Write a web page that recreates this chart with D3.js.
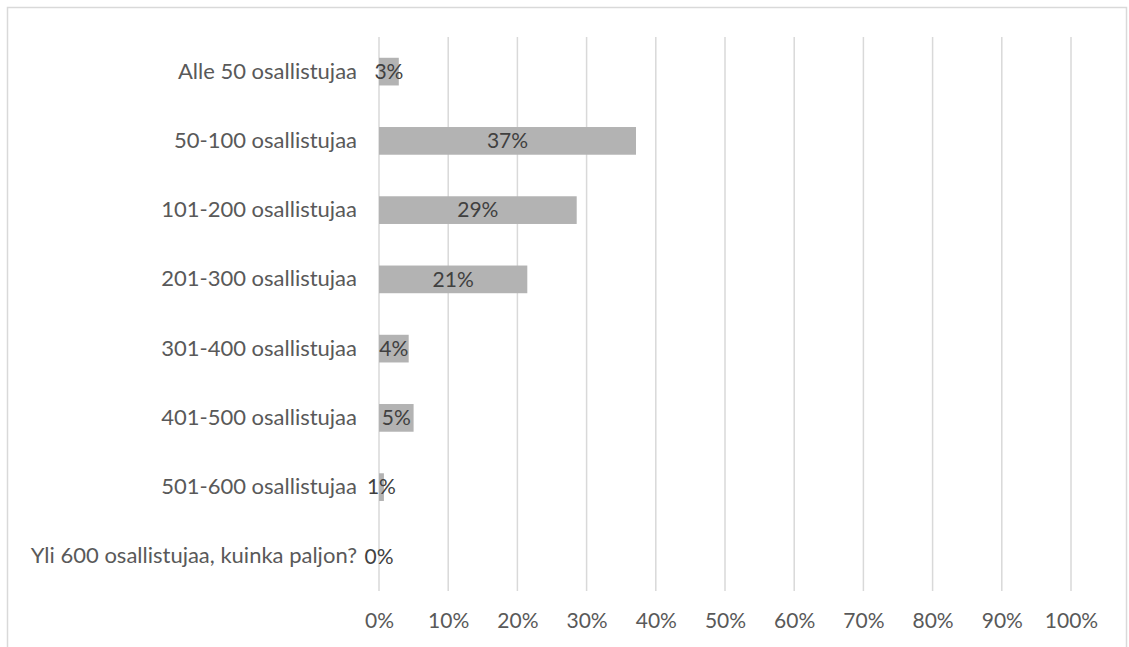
<!DOCTYPE html>
<html>
<head>
<meta charset="utf-8">
<script src="https://cdn.jsdelivr.net/npm/d3@7"></script>
<style>
  html, body { margin: 0; padding: 0; background: #fff; }
  svg { display: block; }
</style>
</head>
<body>
<svg id="chart" width="1129" height="647"></svg>
<script>
// Survey answers: event size by number of participants (share of respondents)
const categories = [
  "Alle 50 osallistujaa",
  "50-100 osallistujaa",
  "101-200 osallistujaa",
  "201-300 osallistujaa",
  "301-400 osallistujaa",
  "401-500 osallistujaa",
  "501-600 osallistujaa",
  "Yli 600 osallistujaa, kuinka paljon?"
];
const shares = [0.0286, 0.3714, 0.2857, 0.2143, 0.0429, 0.05, 0.0071, 0];
const xTicks = [0, 0.1, 0.2, 0.3, 0.4, 0.5, 0.6, 0.7, 0.8, 0.9, 1.0];

const FONT = "Lato, 'Open Sans', sans-serif";
const svg = d3.select("#chart");

// outer chart frame
svg.append("rect")
  .attr("x", 7.5).attr("y", 7.5)
  .attr("width", 1119).attr("height", 660)
  .attr("fill", "none").attr("stroke", "#d9d9d9").attr("stroke-width", 1.5);

const plot = { left: 379, right: 1071, top: 37, bottom: 591 };

const x = d3.scaleLinear().domain([0, 1]).range([plot.left, plot.right]);
const y = d3.scaleBand().domain(categories)
  .range([plot.top, plot.bottom]).paddingInner(0.6).paddingOuter(0.3);

// vertical gridlines
svg.append("g").selectAll("line").data(xTicks).join("line")
  .attr("x1", d => x(d)).attr("x2", d => x(d))
  .attr("y1", plot.top).attr("y2", plot.bottom)
  .attr("stroke", "#d9d9d9").attr("stroke-width", 1.5);

// x axis tick labels
const xAxis = d3.axisBottom(x).tickValues(xTicks).tickFormat(d3.format(".0%")).tickSize(0).tickPadding(0);
const gx = svg.append("g").attr("transform", `translate(0,${plot.bottom})`).call(xAxis);
gx.select(".domain").remove();
gx.selectAll("text")
  .attr("y", 30).attr("dy", "0.35em")
  .attr("fill", "#595959")
  .style("font-family", FONT).style("font-size", "21px");

// category labels
const yAxis = d3.axisLeft(y).tickSize(0).tickPadding(22);
const gy = svg.append("g").attr("transform", `translate(${plot.left},0)`).call(yAxis);
gy.select(".domain").remove();
gy.selectAll("text")
  .attr("fill", "#595959")
  .style("font-family", FONT).style("font-size", "22px");

// bars
svg.append("g").selectAll("rect").data(shares).join("rect")
  .attr("x", x(0))
  .attr("y", (d, i) => y(categories[i]))
  .attr("width", d => x(d) - x(0))
  .attr("height", y.bandwidth())
  .attr("fill", "#b3b3b3");

// value labels centred on each bar
const fmt = d3.format(".0%");
svg.append("g").selectAll("text").data(shares).join("text")
  .attr("x", d => (x(0) + x(d)) / 2)
  .attr("y", (d, i) => y(categories[i]) + y.bandwidth() / 2)
  .attr("dy", "0.35em")
  .attr("text-anchor", "middle")
  .attr("fill", "#404040")
  .style("font-family", FONT).style("font-size", "21px")
  .text(d => fmt(d));
</script>
</body>
</html>
